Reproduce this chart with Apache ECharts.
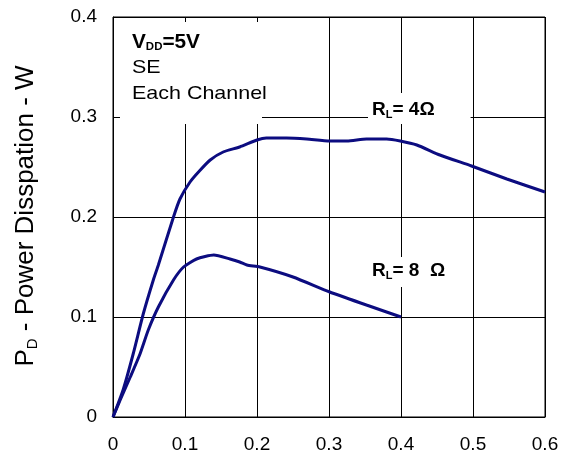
<!DOCTYPE html>
<html>
<head>
<meta charset="utf-8">
<script src="https://cdn.jsdelivr.net/npm/echarts@6/dist/echarts.min.js"></script>
<style>
  html, body { margin: 0; padding: 0; background: #fff; }
  #chart { width: 569px; height: 462px; }
</style>
</head>
<body>
<div id="chart"></div>
<script>
// 读图得到的数据 (y: 功耗 W)
const xTicks = [0, 0.1, 0.2, 0.3, 0.4, 0.5, 0.6];
const yTicks = [0, 0.1, 0.2, 0.3, 0.4];

const r4X = [0, 0.014, 0.028, 0.042, 0.056, 0.063, 0.084, 0.093, 0.107, 0.12, 0.135, 0.153, 0.176, 0.2, 0.213, 0.241, 0.269, 0.301, 0.325, 0.352, 0.38, 0.399, 0.422, 0.454, 0.498, 0.547, 0.6];
const r4Y = [0, 0.027, 0.063, 0.103, 0.137, 0.152, 0.2, 0.218, 0.235, 0.246, 0.257, 0.265, 0.27, 0.277, 0.279, 0.279, 0.278, 0.276, 0.276, 0.278, 0.278, 0.276, 0.272, 0.262, 0.251, 0.238, 0.225];

const r8X = [0, 0.01, 0.024, 0.0375, 0.049, 0.063, 0.084, 0.098, 0.116, 0.14, 0.1625, 0.176, 0.186, 0.204, 0.25, 0.301, 0.352, 0.4];
const r8Y = [0, 0.017, 0.04, 0.063, 0.087, 0.11, 0.137, 0.15, 0.158, 0.162, 0.158, 0.155, 0.152, 0.15, 0.14, 0.125, 0.112, 0.1];

const lineColor = '#0c0c80';
const font = 'Liberation Sans, Arial, sans-serif';

const toPairs = (xs, ys) => xs.map((x, i) => [x, ys[i]]);
const tickFmt = v => (v === 0 ? '0' : v.toFixed(1));

const chart = echarts.init(document.getElementById('chart'));

const option = {
  animation: false,
  grid: {
    left: 113, right: 24, top: 17, bottom: 45,
    show: true, borderColor: '#000', borderWidth: 1
  },
  xAxis: {
    type: 'value',
    min: xTicks[0], max: xTicks[xTicks.length - 1], interval: 0.1,
    axisLine: { lineStyle: { color: '#000', width: 1 } },
    axisTick: { inside: true, length: 6, lineStyle: { color: '#000' } },
    splitLine: { show: true, lineStyle: { color: '#000', width: 1 } },
    axisLabel: { color: '#000', fontSize: 19, fontFamily: font, margin: 18, formatter: tickFmt }
  },
  yAxis: {
    type: 'value',
    min: yTicks[0], max: yTicks[yTicks.length - 1], interval: 0.1,
    axisLine: { show: true, lineStyle: { color: '#000', width: 1 } },
    axisTick: { show: true, inside: true, length: 7, lineStyle: { color: '#000' } },
    splitLine: { show: true, lineStyle: { color: '#000', width: 1 } },
    axisLabel: { color: '#000', fontSize: 19, fontFamily: font, margin: 16, formatter: tickFmt }
  },
  series: [
    {
      name: 'RL=4',
      type: 'line',
      data: toPairs(r4X, r4Y),
      showSymbol: false,
      smooth: 0.2,
      lineStyle: { color: lineColor, width: 3 },
      z: 3
    },
    {
      name: 'RL=8',
      type: 'line',
      data: toPairs(r8X, r8Y),
      showSymbol: false,
      smooth: 0.2,
      lineStyle: { color: lineColor, width: 3 },
      z: 3
    }
  ],
  graphic: [
    // 左上角说明框
    {
      type: 'rect', z: 10,
      shape: { x: 120, y: 22, width: 142, height: 102 },
      style: { fill: '#fff' }
    },
    {
      type: 'text', z: 11, x: 132, y: 31, scaleX: 1.04,
      style: {
        text: '{b|V}{s|DD}{b|=5V}',
        rich: {
          b: { fontSize: 20, fontWeight: 'bold', fontFamily: font, fill: '#000', lineHeight: 22 },
          s: { fontSize: 11, fontWeight: 'bold', fontFamily: font, fill: '#000', lineHeight: 22, padding: [10, 0, 0, 0] }
        }
      }
    },
    {
      type: 'text', z: 11, x: 132, y: 58, scaleX: 1.13,
      style: { text: 'SE', fontSize: 19, fontFamily: font, fill: '#000' }
    },
    {
      type: 'text', z: 11, x: 132, y: 84, scaleX: 1.13,
      style: { text: 'Each Channel', fontSize: 19, fontFamily: font, fill: '#000' }
    },
    // 曲线标注
    {
      type: 'text', z: 11, x: 368, y: 93,
      style: {
        text: '{b|R}{s|L}{b|= 4Ω}',
        backgroundColor: '#fff', padding: [5, 36, 2, 4],
        rich: {
          b: { fontSize: 19, fontWeight: 'bold', fontFamily: font, fill: '#000', lineHeight: 24 },
          s: { fontSize: 11, fontWeight: 'bold', fontFamily: font, fill: '#000', lineHeight: 24, padding: [10, 0, 0, 0] }
        }
      }
    },
    {
      type: 'text', z: 11, x: 368, y: 257,
      style: {
        text: '{b|R}{s|L}{b|= 8  Ω}',
        backgroundColor: '#fff', padding: [2, 4, 4, 4],
        rich: {
          b: { fontSize: 19, fontWeight: 'bold', fontFamily: font, fill: '#000', lineHeight: 24 },
          s: { fontSize: 11, fontWeight: 'bold', fontFamily: font, fill: '#000', lineHeight: 24, padding: [10, 0, 0, 0] }
        }
      }
    },
    // 纵轴标题
    {
      type: 'text', z: 11, x: 26, y: 216, rotation: Math.PI / 2,
      style: {
        text: '{a|P}{s|D}{a| - Power Disspation - W}',
        align: 'center', verticalAlign: 'middle',
        rich: {
          a: { fontSize: 26, fontFamily: font, fill: '#000', lineHeight: 30 },
          s: { fontSize: 15, fontFamily: font, fill: '#000', lineHeight: 30, padding: [14, 0, 0, 0] }
        }
      }
    }
  ]
};

chart.setOption(option);
</script>
</body>
</html>
